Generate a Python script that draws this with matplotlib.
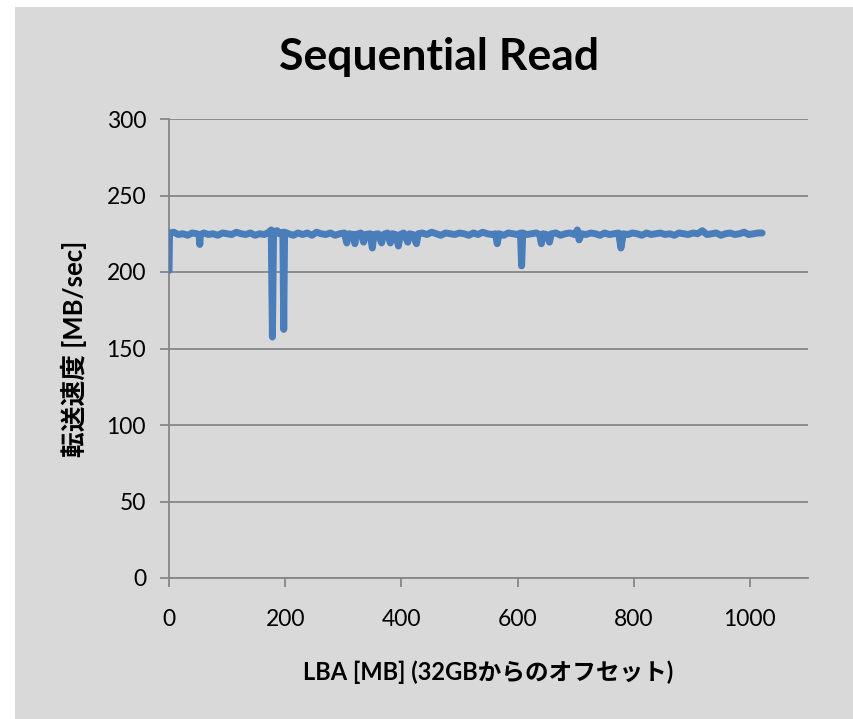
import matplotlib.pyplot as plt
from matplotlib.patches import Rectangle

# LBA offset (MB) and measured read speed (MB/sec)
lba_mb = [0, 1, 8, 16, 24, 32, 40, 48, 52, 53, 54, 60, 68, 76, 84, 92, 100, 108, 116, 124,
          132, 140, 148, 156, 164, 172, 176, 178, 180, 186, 190, 196, 197.5, 199, 206, 214,
          222, 230, 238, 246, 254, 262, 270, 278, 286, 294, 302, 306, 310, 318, 320, 322,
          330, 335, 338, 346, 350, 353, 360, 366, 369, 376, 381, 384, 390, 395, 398, 404,
          411, 414, 420, 426, 429, 436, 444, 452, 460, 468, 476, 484, 492, 500, 508, 516,
          524, 532, 540, 548, 556, 562, 565, 568, 576, 584, 592, 600, 605, 607, 609, 616,
          624, 632, 638, 641, 644, 650, 655, 658, 666, 674, 682, 690, 698, 703, 706, 710,
          718, 726, 734, 742, 750, 758, 766, 774, 778, 782, 790, 798, 806, 814, 822, 830,
          838, 846, 854, 862, 870, 878, 886, 894, 902, 910, 918, 926, 934, 942, 950, 958,
          966, 974, 982, 990, 998, 1006, 1014, 1021]
read_speed = [201.0, 225.5, 226.0, 224.5, 225.0, 224.0, 225.5, 225.0, 224.0, 218.0, 224.5, 225.5,
              224.5, 225.0, 224.0, 225.5, 225.0, 224.5, 226.0, 225.0, 224.5, 225.5, 224.0, 225.0,
              224.5, 226.0, 227.5, 157.5, 226.0, 227.0, 225.0, 226.0, 162.5, 226.0, 225.0, 224.0,
              225.5, 224.5, 225.5, 224.0, 226.0, 225.0, 224.5, 225.5, 224.0, 225.0, 225.5, 219.0,
              225.0, 224.5, 218.5, 224.5, 225.5, 219.5, 224.5, 225.0, 215.7, 224.5, 225.0, 219.0,
              224.5, 225.5, 219.0, 225.0, 224.5, 217.0, 224.5, 225.5, 219.5, 225.0, 224.5, 218.5,
              225.0, 225.5, 224.5, 226.0, 225.0, 224.0, 225.5, 225.0, 224.5, 225.5, 225.0, 224.0,
              225.5, 224.5, 226.0, 225.0, 224.5, 225.0, 218.5, 225.0, 224.0, 225.5, 225.0, 224.5,
              225.5, 204.0, 225.5, 224.5, 225.0, 225.5, 224.5, 218.5, 225.0, 224.5, 219.5, 225.0,
              225.5, 224.0, 225.0, 225.5, 224.5, 227.5, 221.0, 225.0, 224.5, 225.5, 225.0, 224.0,
              225.5, 224.5, 225.0, 225.5, 215.7, 225.0, 224.5, 225.5, 225.0, 224.0, 225.5, 224.5,
              225.0, 225.5, 224.5, 225.0, 224.0, 225.5, 225.0, 224.5, 225.5, 225.0, 227.0, 224.5,
              225.0, 225.5, 224.0, 225.0, 225.5, 224.5, 225.0, 226.0, 224.5, 225.0, 225.5, 225.5]

x_ticks = [0, 200, 400, 600, 800, 1000]
y_ticks = [0, 50, 100, 150, 200, 250, 300]

fonts = ['Lato', 'Noto Sans CJK JP']
plt.rcParams['font.family'] = fonts

fig = plt.figure(figsize=(8.54, 7.19), dpi=100)
fig.patch.set_facecolor('white')
# gray chart area
fig.patches.append(Rectangle((15 / 854, 0), 838 / 854, 712 / 719, transform=fig.transFigure,
                             facecolor='#d9d9d9', edgecolor='none', zorder=-1))

ax = fig.add_axes([169 / 854, 1 - 578 / 719, 639 / 854, 459 / 719])
ax.set_facecolor('#d9d9d9')

ax.plot(lba_mb, read_speed, color='#4a7ebb', lw=5.0, solid_capstyle='round',
        solid_joinstyle='round', zorder=3)

ax.set_xlim(0, 1100)
ax.set_ylim(0, 300)
ax.set_xticks(x_ticks)
ax.set_yticks(y_ticks)
ax.yaxis.grid(True, color='#868686', lw=1.3)
ax.set_axisbelow(True)
for side in ['top', 'right']:
    ax.spines[side].set_visible(False)
for side in ['left', 'bottom']:
    ax.spines[side].set_color('#868686')
    ax.spines[side].set_linewidth(1.3)
ax.tick_params(axis='both', color='#868686', width=1.3, length=6.5, labelsize=16.5)
ax.tick_params(axis='y', pad=10)
ax.tick_params(axis='x', pad=16)

fig.text(439.5 / 854, 1 - 57 / 719, 'Sequential Read', fontsize=32, fontweight='bold',
         ha='center', va='center')
ax.set_xlabel('LBA [MB] (32GBからのオフセット)', fontsize=17, fontweight='bold', labelpad=22)
ax.set_ylabel('転送速度 [MB/sec]', fontsize=18.5, fontweight='bold', labelpad=14)

fig.savefig('out.png', dpi=100)
